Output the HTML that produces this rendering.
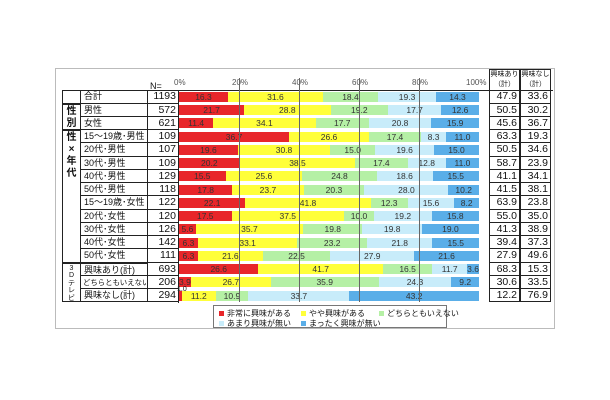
<!DOCTYPE html>
<html><head><meta charset="utf-8"><style>
*{margin:0;padding:0;box-sizing:border-box}
body{width:610px;height:400px;background:#fff;position:relative;font-family:"Liberation Sans","Noto Sans CJK JP",sans-serif;color:#111;overflow:hidden}
.frame{position:absolute;left:55px;top:68px;width:500px;height:261px;border:1px solid #bbb}
.row{position:absolute;left:80px;height:13.25px;width:472px}
.lab{position:absolute;left:0;width:68px;height:100%;border:1px solid #222;border-top:none;font-size:9px;line-height:13px;padding-left:3px;white-space:nowrap;overflow:hidden}
.n{position:absolute;left:68px;width:30px;height:100%;border-bottom:1px solid #222;font-size:10.5px;line-height:13px;text-align:right;padding-right:2px}
.bar{position:absolute;left:99px;top:1.6px;width:300px;height:10px;display:flex;font-size:8.5px;line-height:10px;text-align:center;color:#333}
.bar span{display:block;overflow:visible;white-space:nowrap}
.r{background:#e8262a}.y{background:#ffff3a}.g{background:#b5f0a5}.l{background:#c8ecfa}.b{background:#5aaee8}
.c1,.c2{position:absolute;width:31px;height:100%;border:1px solid #222;border-top:none;font-size:10.5px;line-height:13px;text-align:right;padding-right:2px}
.c1{left:409px}.c2{left:440px}
.grid{position:absolute;top:78px;height:224px;width:1px;background:#666;z-index:5}
.ax{position:absolute;top:78px;font-size:8px;color:#555}
.grp{position:absolute;left:62px;width:18px;border:1px solid #222;border-right:none;font-size:10px;line-height:12px;text-align:center;font-weight:bold}
.leg{position:absolute;left:213px;top:305px;width:234px;height:23px;border:1px solid #777;font-size:8px}
.leg div{position:absolute;white-space:nowrap}
.leg i{display:inline-block;width:5px;height:5px;margin-right:3px}
</style></head><body>
<div class="frame"></div>
<div class="ax" style="left:174px">0%</div>
<div class="ax" style="left:232px">20%</div>
<div class="ax" style="left:292px">40%</div>
<div class="ax" style="left:352px">60%</div>
<div class="ax" style="left:412px">80%</div>
<div class="ax" style="left:466px">100%</div>
<div style="position:absolute;left:150px;top:81px;font-size:9px">N=</div>
<div style="position:absolute;left:489px;top:69px;width:31px;height:22px;border:1px solid #222;font-size:7px;line-height:10px;text-align:center">興味あり<br>（計）</div>
<div style="position:absolute;left:520px;top:69px;width:31px;height:22px;border:1px solid #222;font-size:7px;line-height:10px;text-align:center">興味なし<br>（計）</div>
<div style="position:absolute;left:62px;top:90.4px;width:18px;height:13.25px;border:1px solid #222;border-right:none"></div>
<div class="grp" style="top:103.6px;height:26.5px;padding-top:1px">性<br>別</div>
<div class="grp" style="top:130.1px;height:132.5px;padding-top:1px">性<br>×<br>年<br>代</div>
<div class="grp" style="top:262.6px;height:39.8px;font-size:7px;line-height:7.6px;padding-top:1px;font-weight:normal">3<br>D<br>テ<br>レ<br>ビ</div>
<div style="position:absolute;left:80px;top:90.4px;width:473px;height:1px;background:#222"></div>

<div class="row" style="top:90.4px"><div class="lab">合計</div><div class="n">1193</div><div class="bar"><span class="r" style="flex:16.3">16.3</span><span class="y" style="flex:31.6">31.6</span><span class="g" style="flex:18.4">18.4</span><span class="l" style="flex:19.3">19.3</span><span class="b" style="flex:14.3">14.3</span></div><div class="c1">47.9</div><div class="c2">33.6</div></div>
<div class="row" style="top:103.65px"><div class="lab">男性</div><div class="n">572</div><div class="bar"><span class="r" style="flex:21.7">21.7</span><span class="y" style="flex:28.8">28.8</span><span class="g" style="flex:19.2">19.2</span><span class="l" style="flex:17.7">17.7</span><span class="b" style="flex:12.6">12.6</span></div><div class="c1">50.5</div><div class="c2">30.2</div></div>
<div class="row" style="top:116.9px"><div class="lab">女性</div><div class="n">621</div><div class="bar"><span class="r" style="flex:11.4">11.4</span><span class="y" style="flex:34.1">34.1</span><span class="g" style="flex:17.7">17.7</span><span class="l" style="flex:20.8">20.8</span><span class="b" style="flex:15.9">15.9</span></div><div class="c1">45.6</div><div class="c2">36.7</div></div>
<div class="row" style="top:130.15px"><div class="lab">15～19歳･男性</div><div class="n">109</div><div class="bar"><span class="r" style="flex:36.7">36.7</span><span class="y" style="flex:26.6">26.6</span><span class="g" style="flex:17.4">17.4</span><span class="l" style="flex:8.3">8.3</span><span class="b" style="flex:11.0">11.0</span></div><div class="c1">63.3</div><div class="c2">19.3</div></div>
<div class="row" style="top:143.4px"><div class="lab">20代･男性</div><div class="n">107</div><div class="bar"><span class="r" style="flex:19.6">19.6</span><span class="y" style="flex:30.8">30.8</span><span class="g" style="flex:15.0">15.0</span><span class="l" style="flex:19.6">19.6</span><span class="b" style="flex:15.0">15.0</span></div><div class="c1">50.5</div><div class="c2">34.6</div></div>
<div class="row" style="top:156.65px"><div class="lab">30代･男性</div><div class="n">109</div><div class="bar"><span class="r" style="flex:20.2">20.2</span><span class="y" style="flex:38.5">38.5</span><span class="g" style="flex:17.4">17.4</span><span class="l" style="flex:12.8">12.8</span><span class="b" style="flex:11.0">11.0</span></div><div class="c1">58.7</div><div class="c2">23.9</div></div>
<div class="row" style="top:169.9px"><div class="lab">40代･男性</div><div class="n">129</div><div class="bar"><span class="r" style="flex:15.5">15.5</span><span class="y" style="flex:25.6">25.6</span><span class="g" style="flex:24.8">24.8</span><span class="l" style="flex:18.6">18.6</span><span class="b" style="flex:15.5">15.5</span></div><div class="c1">41.1</div><div class="c2">34.1</div></div>
<div class="row" style="top:183.15px"><div class="lab">50代･男性</div><div class="n">118</div><div class="bar"><span class="r" style="flex:17.8">17.8</span><span class="y" style="flex:23.7">23.7</span><span class="g" style="flex:20.3">20.3</span><span class="l" style="flex:28.0">28.0</span><span class="b" style="flex:10.2">10.2</span></div><div class="c1">41.5</div><div class="c2">38.1</div></div>
<div class="row" style="top:196.4px"><div class="lab">15～19歳･女性</div><div class="n">122</div><div class="bar"><span class="r" style="flex:22.1">22.1</span><span class="y" style="flex:41.8">41.8</span><span class="g" style="flex:12.3">12.3</span><span class="l" style="flex:15.6">15.6</span><span class="b" style="flex:8.2">8.2</span></div><div class="c1">63.9</div><div class="c2">23.8</div></div>
<div class="row" style="top:209.65px"><div class="lab">20代･女性</div><div class="n">120</div><div class="bar"><span class="r" style="flex:17.5">17.5</span><span class="y" style="flex:37.5">37.5</span><span class="g" style="flex:10.0">10.0</span><span class="l" style="flex:19.2">19.2</span><span class="b" style="flex:15.8">15.8</span></div><div class="c1">55.0</div><div class="c2">35.0</div></div>
<div class="row" style="top:222.9px"><div class="lab">30代･女性</div><div class="n">126</div><div class="bar"><span class="r" style="flex:5.6">5.6</span><span class="y" style="flex:35.7">35.7</span><span class="g" style="flex:19.8">19.8</span><span class="l" style="flex:19.8">19.8</span><span class="b" style="flex:19.0">19.0</span></div><div class="c1">41.3</div><div class="c2">38.9</div></div>
<div class="row" style="top:236.15px"><div class="lab">40代･女性</div><div class="n">142</div><div class="bar"><span class="r" style="flex:6.3">6.3</span><span class="y" style="flex:33.1">33.1</span><span class="g" style="flex:23.2">23.2</span><span class="l" style="flex:21.8">21.8</span><span class="b" style="flex:15.5">15.5</span></div><div class="c1">39.4</div><div class="c2">37.3</div></div>
<div class="row" style="top:249.4px"><div class="lab">50代･女性</div><div class="n">111</div><div class="bar"><span class="r" style="flex:6.3">6.3</span><span class="y" style="flex:21.6">21.6</span><span class="g" style="flex:22.5">22.5</span><span class="l" style="flex:27.9">27.9</span><span class="b" style="flex:21.6">21.6</span></div><div class="c1">27.9</div><div class="c2">49.6</div></div>
<div class="row" style="top:262.65px"><div class="lab" style="border-top:1px solid #222;line-height:12px">興味あり(計)</div><div class="n">693</div><div class="bar"><span class="r" style="flex:26.6">26.6</span><span class="y" style="flex:41.7">41.7</span><span class="g" style="flex:16.5">16.5</span><span class="l" style="flex:11.7">11.7</span><span class="b" style="flex:3.6">3.6</span></div><div class="c1">68.3</div><div class="c2">15.3</div></div>
<div class="row" style="top:275.9px"><div class="lab" style="font-size:7.4px;padding-left:2px">どちらともいえない</div><div class="n">206</div><div class="bar"><span class="r" style="flex:3.9">3.9</span><span class="y" style="flex:26.7">26.7</span><span class="g" style="flex:35.9">35.9</span><span class="l" style="flex:24.3">24.3</span><span class="b" style="flex:9.2">9.2</span></div><div class="c1">30.6</div><div class="c2">33.5</div></div>
<div class="row" style="top:289.15px"><div class="lab">興味なし(計)</div><div class="n">294</div><div class="bar"><span class="r" style="flex:1.0"></span><span class="y" style="flex:11.2">11.2</span><span class="g" style="flex:10.9">10.9</span><span class="l" style="flex:33.7">33.7</span><span class="b" style="flex:43.2">43.2</span></div><div class="c1">12.2</div><div class="c2">76.9</div></div>
<div style="position:absolute;left:177px;top:286px;font-size:7px">1.0</div>
<div style="position:absolute;left:178px;top:90px;width:1px;height:213px;background:#222"></div>

<div class="grid" style="left:239px"></div>
<div class="grid" style="left:299px"></div>
<div class="grid" style="left:359px"></div>
<div class="grid" style="left:419px"></div>

<div class="leg">
<div style="left:5px;top:2px"><i style="background:#e8262a"></i>非常に興味がある</div>
<div style="left:87px;top:2px"><i style="background:#ffff3a"></i>やや興味がある</div>
<div style="left:165px;top:2px"><i style="background:#b5f0a5"></i>どちらともいえない</div>
<div style="left:5px;top:12px"><i style="background:#c8ecfa"></i>あまり興味が無い</div>
<div style="left:87px;top:12px"><i style="background:#5aaee8"></i>まったく興味が無い</div>
</div>
</body></html>
